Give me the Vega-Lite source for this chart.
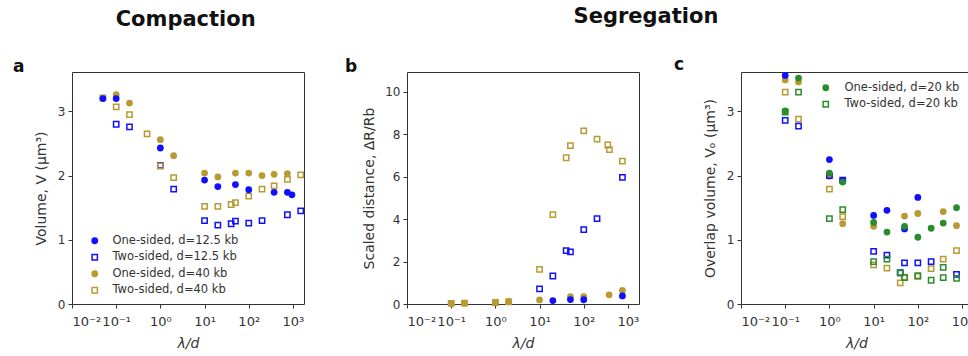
{
  "$schema": "https://vega.github.io/schema/vega-lite/v6.json",
  "padding": {"left": 12, "top": 6, "right": 0, "bottom": 0},
  "background": "white",
  "config": {
    "font": "DejaVu Sans",
    "view": {"stroke": "#333", "strokeWidth": 1},
    "axis": {"grid": false, "domain": false, "tickColor": "#333", "tickSize": 4, "labelColor": "#333", "labelFont": "DejaVu Sans", "labelFontSize": 12, "titleFont": "DejaVu Sans", "titleFontSize": 14, "titleFontWeight": "normal", "titleColor": "#333", "labelPadding": 3},
    "axisX": {"labelFontSize": 13, "labelPadding": 7},
    "title": {"font": "DejaVu Sans", "fontWeight": "bold", "color": "#111"}
  },
  "datasets": {
    "a": [
      {"lam": 0.05, "v": 3.21, "s": "Two-sided, d=40 kb"},
      {"lam": 0.1, "v": 3.07, "s": "Two-sided, d=40 kb"},
      {"lam": 0.2, "v": 2.95, "s": "Two-sided, d=40 kb"},
      {"lam": 0.5, "v": 2.65, "s": "Two-sided, d=40 kb"},
      {"lam": 2, "v": 1.97, "s": "Two-sided, d=40 kb"},
      {"lam": 10, "v": 1.52, "s": "Two-sided, d=40 kb"},
      {"lam": 20, "v": 1.52, "s": "Two-sided, d=40 kb"},
      {"lam": 40, "v": 1.55, "s": "Two-sided, d=40 kb"},
      {"lam": 50, "v": 1.58, "s": "Two-sided, d=40 kb"},
      {"lam": 100, "v": 1.68, "s": "Two-sided, d=40 kb"},
      {"lam": 200, "v": 1.79, "s": "Two-sided, d=40 kb"},
      {"lam": 375, "v": 1.84, "s": "Two-sided, d=40 kb"},
      {"lam": 750, "v": 1.94, "s": "Two-sided, d=40 kb"},
      {"lam": 1500, "v": 2.01, "s": "Two-sided, d=40 kb"},
      {"lam": 0.1, "v": 3.26, "s": "One-sided, d=40 kb"},
      {"lam": 0.2, "v": 3.13, "s": "One-sided, d=40 kb"},
      {"lam": 1, "v": 2.56, "s": "One-sided, d=40 kb"},
      {"lam": 2, "v": 2.31, "s": "One-sided, d=40 kb"},
      {"lam": 10, "v": 2.04, "s": "One-sided, d=40 kb"},
      {"lam": 20, "v": 1.98, "s": "One-sided, d=40 kb"},
      {"lam": 50, "v": 2.04, "s": "One-sided, d=40 kb"},
      {"lam": 100, "v": 2.04, "s": "One-sided, d=40 kb"},
      {"lam": 200, "v": 2.0, "s": "One-sided, d=40 kb"},
      {"lam": 375, "v": 2.02, "s": "One-sided, d=40 kb"},
      {"lam": 750, "v": 2.03, "s": "One-sided, d=40 kb"},
      {"lam": 0.1, "v": 2.8, "s": "Two-sided, d=12.5 kb"},
      {"lam": 0.2, "v": 2.76, "s": "Two-sided, d=12.5 kb"},
      {"lam": 1, "v": 2.16, "s": "Two-sided, d=12.5 kb"},
      {"lam": 2, "v": 1.79, "s": "Two-sided, d=12.5 kb"},
      {"lam": 10, "v": 1.3, "s": "Two-sided, d=12.5 kb"},
      {"lam": 20, "v": 1.23, "s": "Two-sided, d=12.5 kb"},
      {"lam": 40, "v": 1.25, "s": "Two-sided, d=12.5 kb"},
      {"lam": 50, "v": 1.29, "s": "Two-sided, d=12.5 kb"},
      {"lam": 100, "v": 1.26, "s": "Two-sided, d=12.5 kb"},
      {"lam": 200, "v": 1.3, "s": "Two-sided, d=12.5 kb"},
      {"lam": 750, "v": 1.39, "s": "Two-sided, d=12.5 kb"},
      {"lam": 1500, "v": 1.45, "s": "Two-sided, d=12.5 kb"},
      {"lam": 1, "v": 2.15, "s": "Two-sided, d=40 kb"},
      {"lam": 0.05, "v": 3.2, "s": "One-sided, d=12.5 kb"},
      {"lam": 0.1, "v": 3.2, "s": "One-sided, d=12.5 kb"},
      {"lam": 1, "v": 2.43, "s": "One-sided, d=12.5 kb"},
      {"lam": 10, "v": 1.93, "s": "One-sided, d=12.5 kb"},
      {"lam": 20, "v": 1.83, "s": "One-sided, d=12.5 kb"},
      {"lam": 50, "v": 1.86, "s": "One-sided, d=12.5 kb"},
      {"lam": 100, "v": 1.78, "s": "One-sided, d=12.5 kb"},
      {"lam": 375, "v": 1.74, "s": "One-sided, d=12.5 kb"},
      {"lam": 750, "v": 1.74, "s": "One-sided, d=12.5 kb"},
      {"lam": 950, "v": 1.7, "s": "One-sided, d=12.5 kb"}
    ],
    "b": [
      {"lam": 0.1, "v": 0.03, "s": "Two-sided, d=40 kb"},
      {"lam": 0.2, "v": 0.04, "s": "Two-sided, d=40 kb"},
      {"lam": 1, "v": 0.07, "s": "Two-sided, d=40 kb"},
      {"lam": 2, "v": 0.1, "s": "Two-sided, d=40 kb"},
      {"lam": 10, "v": 1.63, "s": "Two-sided, d=40 kb"},
      {"lam": 20, "v": 4.21, "s": "Two-sided, d=40 kb"},
      {"lam": 40, "v": 6.89, "s": "Two-sided, d=40 kb"},
      {"lam": 50, "v": 7.46, "s": "Two-sided, d=40 kb"},
      {"lam": 100, "v": 8.16, "s": "Two-sided, d=40 kb"},
      {"lam": 200, "v": 7.77, "s": "Two-sided, d=40 kb"},
      {"lam": 350, "v": 7.49, "s": "Two-sided, d=40 kb"},
      {"lam": 380, "v": 7.27, "s": "Two-sided, d=40 kb"},
      {"lam": 750, "v": 6.73, "s": "Two-sided, d=40 kb"},
      {"lam": 10, "v": 0.71, "s": "Two-sided, d=12.5 kb"},
      {"lam": 20, "v": 1.32, "s": "Two-sided, d=12.5 kb"},
      {"lam": 40, "v": 2.51, "s": "Two-sided, d=12.5 kb"},
      {"lam": 50, "v": 2.46, "s": "Two-sided, d=12.5 kb"},
      {"lam": 100, "v": 3.5, "s": "Two-sided, d=12.5 kb"},
      {"lam": 200, "v": 4.02, "s": "Two-sided, d=12.5 kb"},
      {"lam": 750, "v": 5.97, "s": "Two-sided, d=12.5 kb"},
      {"lam": 0.1, "v": 0.03, "s": "One-sided, d=40 kb"},
      {"lam": 0.2, "v": 0.04, "s": "One-sided, d=40 kb"},
      {"lam": 1, "v": 0.08, "s": "One-sided, d=40 kb"},
      {"lam": 2, "v": 0.12, "s": "One-sided, d=40 kb"},
      {"lam": 10, "v": 0.19, "s": "One-sided, d=40 kb"},
      {"lam": 50, "v": 0.35, "s": "One-sided, d=40 kb"},
      {"lam": 100, "v": 0.35, "s": "One-sided, d=40 kb"},
      {"lam": 375, "v": 0.43, "s": "One-sided, d=40 kb"},
      {"lam": 750, "v": 0.64, "s": "One-sided, d=40 kb"},
      {"lam": 20, "v": 0.16, "s": "One-sided, d=12.5 kb"},
      {"lam": 50, "v": 0.21, "s": "One-sided, d=12.5 kb"},
      {"lam": 100, "v": 0.2, "s": "One-sided, d=12.5 kb"},
      {"lam": 750, "v": 0.38, "s": "One-sided, d=12.5 kb"}
    ],
    "c": [
      {"lam": 0.1, "v": 3.49, "s": "One-sided, d=40 kb"},
      {"lam": 0.2, "v": 3.46, "s": "One-sided, d=40 kb"},
      {"lam": 1, "v": 1.99, "s": "One-sided, d=40 kb"},
      {"lam": 2, "v": 1.25, "s": "One-sided, d=40 kb"},
      {"lam": 10, "v": 1.21, "s": "One-sided, d=40 kb"},
      {"lam": 50, "v": 1.37, "s": "One-sided, d=40 kb"},
      {"lam": 100, "v": 1.41, "s": "One-sided, d=40 kb"},
      {"lam": 375, "v": 1.44, "s": "One-sided, d=40 kb"},
      {"lam": 750, "v": 1.22, "s": "One-sided, d=40 kb"},
      {"lam": 0.1, "v": 3.3, "s": "Two-sided, d=40 kb"},
      {"lam": 0.2, "v": 2.88, "s": "Two-sided, d=40 kb"},
      {"lam": 1, "v": 1.79, "s": "Two-sided, d=40 kb"},
      {"lam": 2, "v": 1.36, "s": "Two-sided, d=40 kb"},
      {"lam": 10, "v": 0.61, "s": "Two-sided, d=40 kb"},
      {"lam": 20, "v": 0.56, "s": "Two-sided, d=40 kb"},
      {"lam": 40, "v": 0.33, "s": "Two-sided, d=40 kb"},
      {"lam": 50, "v": 0.42, "s": "Two-sided, d=40 kb"},
      {"lam": 100, "v": 0.43, "s": "Two-sided, d=40 kb"},
      {"lam": 200, "v": 0.55, "s": "Two-sided, d=40 kb"},
      {"lam": 375, "v": 0.7, "s": "Two-sided, d=40 kb"},
      {"lam": 750, "v": 0.83, "s": "Two-sided, d=40 kb"},
      {"lam": 0.1, "v": 2.86, "s": "Two-sided, d=12.5 kb"},
      {"lam": 0.2, "v": 2.77, "s": "Two-sided, d=12.5 kb"},
      {"lam": 1, "v": 2.0, "s": "Two-sided, d=12.5 kb"},
      {"lam": 2, "v": 1.93, "s": "Two-sided, d=12.5 kb"},
      {"lam": 10, "v": 0.82, "s": "Two-sided, d=12.5 kb"},
      {"lam": 20, "v": 0.76, "s": "Two-sided, d=12.5 kb"},
      {"lam": 40, "v": 0.49, "s": "Two-sided, d=12.5 kb"},
      {"lam": 50, "v": 0.64, "s": "Two-sided, d=12.5 kb"},
      {"lam": 100, "v": 0.64, "s": "Two-sided, d=12.5 kb"},
      {"lam": 200, "v": 0.66, "s": "Two-sided, d=12.5 kb"},
      {"lam": 750, "v": 0.46, "s": "Two-sided, d=12.5 kb"},
      {"lam": 0.1, "v": 3.56, "s": "One-sided, d=12.5 kb"},
      {"lam": 1, "v": 2.25, "s": "One-sided, d=12.5 kb"},
      {"lam": 2, "v": 1.92, "s": "One-sided, d=12.5 kb"},
      {"lam": 10, "v": 1.38, "s": "One-sided, d=12.5 kb"},
      {"lam": 20, "v": 1.46, "s": "One-sided, d=12.5 kb"},
      {"lam": 50, "v": 1.17, "s": "One-sided, d=12.5 kb"},
      {"lam": 100, "v": 1.66, "s": "One-sided, d=12.5 kb"},
      {"lam": 0.1, "v": 3.01, "s": "One-sided, d=20 kb"},
      {"lam": 0.2, "v": 3.52, "s": "One-sided, d=20 kb"},
      {"lam": 1, "v": 2.04, "s": "One-sided, d=20 kb"},
      {"lam": 2, "v": 1.9, "s": "One-sided, d=20 kb"},
      {"lam": 10, "v": 1.27, "s": "One-sided, d=20 kb"},
      {"lam": 20, "v": 1.12, "s": "One-sided, d=20 kb"},
      {"lam": 50, "v": 1.21, "s": "One-sided, d=20 kb"},
      {"lam": 100, "v": 1.04, "s": "One-sided, d=20 kb"},
      {"lam": 200, "v": 1.18, "s": "One-sided, d=20 kb"},
      {"lam": 375, "v": 1.26, "s": "One-sided, d=20 kb"},
      {"lam": 750, "v": 1.5, "s": "One-sided, d=20 kb"},
      {"lam": 0.1, "v": 2.99, "s": "Two-sided, d=20 kb"},
      {"lam": 0.2, "v": 3.3, "s": "Two-sided, d=20 kb"},
      {"lam": 1, "v": 1.33, "s": "Two-sided, d=20 kb"},
      {"lam": 2, "v": 1.47, "s": "Two-sided, d=20 kb"},
      {"lam": 10, "v": 0.66, "s": "Two-sided, d=20 kb"},
      {"lam": 20, "v": 0.7, "s": "Two-sided, d=20 kb"},
      {"lam": 40, "v": 0.48, "s": "Two-sided, d=20 kb"},
      {"lam": 50, "v": 0.41, "s": "Two-sided, d=20 kb"},
      {"lam": 100, "v": 0.44, "s": "Two-sided, d=20 kb"},
      {"lam": 200, "v": 0.37, "s": "Two-sided, d=20 kb"},
      {"lam": 375, "v": 0.57, "s": "Two-sided, d=20 kb"},
      {"lam": 375, "v": 0.41, "s": "Two-sided, d=20 kb"},
      {"lam": 750, "v": 0.4, "s": "Two-sided, d=20 kb"}
    ]
  },
  "spacing": 37,
  "resolve": {"scale": {"stroke": "independent", "fill": "independent", "shape": "independent"}},
  "hconcat": [
    {
      "title": {"text": "Compaction", "anchor": "middle", "fontSize": 21, "dx": 26, "offset": 28},
      "vconcat": [
        {
          "title": {"text": "a", "anchor": "start", "frame": "group", "dx": -59, "fontSize": 17, "offset": -4},
          "width": 232, "height": 232,
          "data": {"name": "a"},
          "mark": {"type": "point", "size": 28, "opacity": 1, "strokeWidth": 1.5},
          "encoding": {
            "x": {"field": "lam", "type": "quantitative", "scale": {"type": "log", "domain": [0.01, 1780], "nice": false},
              "axis": {"title": "λ/d", "titleFontStyle": "italic", "values": [0.01, 0.1, 1, 10, 100, 1000], "labelExpr": "datum.value < 0.05 ? '10⁻²' : datum.value < 0.5 ? '10⁻¹' : datum.value < 5 ? '10⁰' : datum.value < 50 ? '10¹' : datum.value < 500 ? '10²' : '10³'", "titlePadding": 8}},
            "y": {"field": "v", "type": "quantitative", "scale": {"domain": [0, 3.614], "nice": false},
              "axis": {"title": "Volume, V (μm³)", "values": [0, 1, 2, 3], "titlePadding": 9}},
            "stroke": {"field": "s", "type": "nominal",
              "scale": {"domain": ["One-sided, d=12.5 kb", "Two-sided, d=12.5 kb", "One-sided, d=40 kb", "Two-sided, d=40 kb", "One-sided, d=20 kb", "Two-sided, d=20 kb"], "range": ["#1010ff", "#1010ff", "#b99a32", "#b99a32", "#2a8c2a", "#2a8c2a"]},
              "legend": {"title": null, "orient": "none", "legendX": 17, "legendY": 163, "values": ["One-sided, d=12.5 kb", "Two-sided, d=12.5 kb", "One-sided, d=40 kb", "Two-sided, d=40 kb"], "labelFontSize": 11.5, "labelColor": "#333", "labelFont": "DejaVu Sans", "symbolStrokeWidth": 1.5, "symbolSize": 28, "rowPadding": 3.5, "labelOffset": 12, "padding": 0}},
            "fill": {"field": "s", "type": "nominal",
              "scale": {"domain": ["One-sided, d=12.5 kb", "Two-sided, d=12.5 kb", "One-sided, d=40 kb", "Two-sided, d=40 kb", "One-sided, d=20 kb", "Two-sided, d=20 kb"], "range": ["#1010ff", "transparent", "#b99a32", "transparent", "#2a8c2a", "transparent"]},
              "legend": {"title": null, "orient": "none", "legendX": 17, "legendY": 163, "values": ["One-sided, d=12.5 kb", "Two-sided, d=12.5 kb", "One-sided, d=40 kb", "Two-sided, d=40 kb"], "labelFontSize": 11.5, "labelColor": "#333", "labelFont": "DejaVu Sans", "symbolStrokeWidth": 1.5, "symbolSize": 28, "rowPadding": 3.5, "labelOffset": 12, "padding": 0}},
            "shape": {"field": "s", "type": "nominal",
              "scale": {"domain": ["One-sided, d=12.5 kb", "Two-sided, d=12.5 kb", "One-sided, d=40 kb", "Two-sided, d=40 kb", "One-sided, d=20 kb", "Two-sided, d=20 kb"], "range": ["circle", "square", "circle", "square", "circle", "square"]},
              "legend": {"title": null, "orient": "none", "legendX": 17, "legendY": 163, "values": ["One-sided, d=12.5 kb", "Two-sided, d=12.5 kb", "One-sided, d=40 kb", "Two-sided, d=40 kb"], "labelFontSize": 11.5, "labelColor": "#333", "labelFont": "DejaVu Sans", "symbolStrokeWidth": 1.5, "symbolSize": 28, "rowPadding": 3.5, "labelOffset": 12, "padding": 0}}
          }
        }
      ]
    },
    {
      "title": {"text": "Segregation", "anchor": "middle", "fontSize": 21, "dx": -13, "offset": 28},
      "spacing": 33,
      "resolve": {"scale": {"stroke": "independent", "fill": "independent", "shape": "independent"}},
      "hconcat": [
        {
          "title": {"text": "b", "anchor": "start", "frame": "group", "dx": -62, "fontSize": 17, "offset": -4},
          "width": 232, "height": 232,
          "data": {"name": "b"},
          "mark": {"type": "point", "size": 28, "opacity": 1, "strokeWidth": 1.5},
          "encoding": {
            "x": {"field": "lam", "type": "quantitative", "scale": {"type": "log", "domain": [0.01, 1780], "nice": false},
              "axis": {"title": "λ/d", "titleFontStyle": "italic", "values": [0.01, 0.1, 1, 10, 100, 1000], "labelExpr": "datum.value < 0.05 ? '10⁻²' : datum.value < 0.5 ? '10⁻¹' : datum.value < 5 ? '10⁰' : datum.value < 50 ? '10¹' : datum.value < 500 ? '10²' : '10³'", "titlePadding": 8}},
            "y": {"field": "v", "type": "quantitative", "scale": {"domain": [0, 10.93], "nice": false},
              "axis": {"title": "Scaled distance, ΔR/Rb", "values": [0, 2, 4, 6, 8, 10], "titlePadding": 8}},
            "stroke": {"field": "s", "type": "nominal",
              "scale": {"domain": ["One-sided, d=12.5 kb", "Two-sided, d=12.5 kb", "One-sided, d=40 kb", "Two-sided, d=40 kb", "One-sided, d=20 kb", "Two-sided, d=20 kb"], "range": ["#1010ff", "#1010ff", "#b99a32", "#b99a32", "#2a8c2a", "#2a8c2a"]},
              "legend": null},
            "fill": {"field": "s", "type": "nominal",
              "scale": {"domain": ["One-sided, d=12.5 kb", "Two-sided, d=12.5 kb", "One-sided, d=40 kb", "Two-sided, d=40 kb", "One-sided, d=20 kb", "Two-sided, d=20 kb"], "range": ["#1010ff", "transparent", "#b99a32", "transparent", "#2a8c2a", "transparent"]},
              "legend": null},
            "shape": {"field": "s", "type": "nominal",
              "scale": {"domain": ["One-sided, d=12.5 kb", "Two-sided, d=12.5 kb", "One-sided, d=40 kb", "Two-sided, d=40 kb", "One-sided, d=20 kb", "Two-sided, d=20 kb"], "range": ["circle", "square", "circle", "square", "circle", "square"]},
              "legend": null}
          }
        },
        {
          "title": {"text": "c", "anchor": "start", "frame": "group", "dx": -67, "fontSize": 17, "offset": -4},
          "width": 231, "height": 232,
          "data": {"name": "c"},
          "mark": {"type": "point", "size": 28, "opacity": 1, "strokeWidth": 1.5},
          "encoding": {
            "x": {"field": "lam", "type": "quantitative", "scale": {"type": "log", "domain": [0.01, 1680], "nice": false},
              "axis": {"title": "λ/d", "titleFontStyle": "italic", "values": [0.01, 0.1, 1, 10, 100, 1000], "labelExpr": "datum.value < 0.05 ? '10⁻²' : datum.value < 0.5 ? '10⁻¹' : datum.value < 5 ? '10⁰' : datum.value < 50 ? '10¹' : datum.value < 500 ? '10²' : '10³'", "titlePadding": 8}},
            "y": {"field": "v", "type": "quantitative", "scale": {"domain": [0, 3.614], "nice": false},
              "axis": {"title": "Overlap volume, Vₒ (μm³)", "values": [0, 1, 2, 3], "titlePadding": 9}},
            "stroke": {"field": "s", "type": "nominal",
              "scale": {"domain": ["One-sided, d=12.5 kb", "Two-sided, d=12.5 kb", "One-sided, d=40 kb", "Two-sided, d=40 kb", "One-sided, d=20 kb", "Two-sided, d=20 kb"], "range": ["#1010ff", "#1010ff", "#b99a32", "#b99a32", "#2a8c2a", "#2a8c2a"]},
              "legend": {"title": null, "orient": "none", "legendX": 79, "legendY": 10, "values": ["One-sided, d=20 kb", "Two-sided, d=20 kb"], "labelFontSize": 11.5, "labelColor": "#333", "labelFont": "DejaVu Sans", "symbolStrokeWidth": 1.5, "symbolSize": 28, "rowPadding": 3.5, "labelOffset": 13, "padding": 0}},
            "fill": {"field": "s", "type": "nominal",
              "scale": {"domain": ["One-sided, d=12.5 kb", "Two-sided, d=12.5 kb", "One-sided, d=40 kb", "Two-sided, d=40 kb", "One-sided, d=20 kb", "Two-sided, d=20 kb"], "range": ["#1010ff", "transparent", "#b99a32", "transparent", "#2a8c2a", "transparent"]},
              "legend": {"title": null, "orient": "none", "legendX": 79, "legendY": 10, "values": ["One-sided, d=20 kb", "Two-sided, d=20 kb"], "labelFontSize": 11.5, "labelColor": "#333", "labelFont": "DejaVu Sans", "symbolStrokeWidth": 1.5, "symbolSize": 28, "rowPadding": 3.5, "labelOffset": 13, "padding": 0}},
            "shape": {"field": "s", "type": "nominal",
              "scale": {"domain": ["One-sided, d=12.5 kb", "Two-sided, d=12.5 kb", "One-sided, d=40 kb", "Two-sided, d=40 kb", "One-sided, d=20 kb", "Two-sided, d=20 kb"], "range": ["circle", "square", "circle", "square", "circle", "square"]},
              "legend": {"title": null, "orient": "none", "legendX": 79, "legendY": 10, "values": ["One-sided, d=20 kb", "Two-sided, d=20 kb"], "labelFontSize": 11.5, "labelColor": "#333", "labelFont": "DejaVu Sans", "symbolStrokeWidth": 1.5, "symbolSize": 28, "rowPadding": 3.5, "labelOffset": 13, "padding": 0}}
          }
        }
      ]
    }
  ]
}
